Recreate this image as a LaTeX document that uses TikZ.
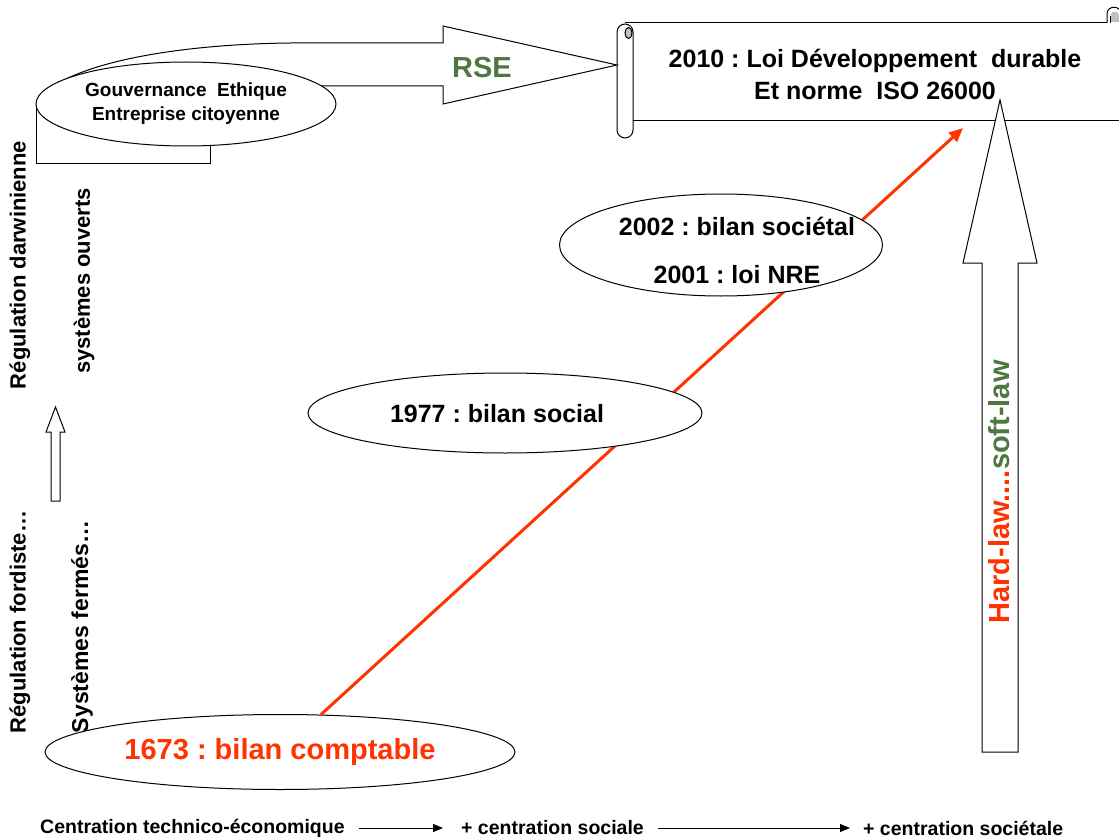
\documentclass[tikz,border=0pt]{standalone}
\usepackage{fontspec}
\setmainfont{Liberation Sans}
\usetikzlibrary{shapes.geometric,arrows.meta}
\definecolor{rougebilan}{RGB}{255,51,0}
\definecolor{vertrse}{RGB}{79,119,66}
\definecolor{grisrouleau}{RGB}{192,192,192}
\newcommand{\taille}[2]{\fontsize{#1}{#2}\selectfont}
\frenchspacing

\begin{document}
\begin{tikzpicture}[x=1pt,y=-1pt,
  trait/.style={draw=black,line width=1pt},
  bulle/.style={ellipse,draw=black,line width=1pt,fill=white,inner sep=0pt},
  gras/.style={inner sep=0pt,font=\bfseries},
  vertical/.style={inner sep=0pt,rotate=90,font=\bfseries\taille{22}{26}},
  axe/.style={inner sep=0pt,font=\bfseries\taille{19.5}{23}},
  flecheaxe/.style={draw=black,line width=1pt,-{Triangle[length=10pt,width=8pt]}},
  flecherouge/.style={draw=rougebilan,line width=3pt,-{Triangle[length=14pt,width=12pt]}},
]
\useasboundingbox (0,0) rectangle (1119,840);
\fill[white] (0,0) rectangle (1119,840);
\begin{scope}
\clip (0,0) rectangle (1119,840);

% ---- scroll holding the 2010 law ----
\draw[trait, fill=white] (625,23) -- (1130,23) -- (1130,121) -- (633,121);
\draw[trait, fill=white, rounded corners=8pt] (617,24) rectangle (633,138);
\draw[trait, fill=grisrouleau] (628.5,33) ellipse [x radius=3.5, y radius=5.5];
\draw[trait, fill=white] (1107,23) -- (1107,14) .. controls (1107,5) and (1121,5) .. (1121,14) -- (1121,23);
\fill[grisrouleau] (1110.5,22) -- (1110.5,16) .. controls (1110.5,10) and (1119,10) .. (1119,16) -- (1119,22) -- cycle;
\draw[trait] (1110.5,23) -- (1110.5,16);
\node[gras, align=center, font=\bfseries\taille{25}{32}] (loi2010) at (875,74)
  {2010 : Loi Développement\ \ durable\\Et norme\ \ ISO 26000};

% ---- curved RSE arrow leaving the governance ellipse ----
\draw[trait] (36,106) -- (36,163) -- (210,163) -- (210,145);
\draw[trait, fill=white] (321.5,86) -- (443,86) -- (443,104) -- (617,65) -- (443,26) -- (443,43)
  -- (290,43) .. controls (200,44) and (110,56) .. (62,81) -- cycle;
\node[bulle, minimum width=300pt, minimum height=84pt, align=center,
      font=\bfseries\taille{19}{24}] (gouv) at (186,104)
  {Gouvernance\ \ Ethique\\Entreprise citoyenne};
\node[gras, text=vertrse, font=\bfseries\taille{29}{34}] (rse) at (482,68) {RSE};

% ---- left-hand vertical captions ----
\node[vertical] (regdarw) at (20,265) {Régulation darwinienne};
\node[vertical] (sysouv) at (84,281) {systèmes ouverts};
\node[vertical] (regford) at (20,622) {Régulation fordiste…};
\node[vertical, font=\bfseries\taille{23}{27}] (sysferm) at (82,627) {Systèmes fermés…};
\draw[trait, fill=white] (51,501) -- (51,432) -- (46,432) -- (55.5,407) -- (65,432) -- (60,432) -- (60,501) -- cycle;

% ---- milestones along the red progression line ----
\node[bulle, minimum width=470pt, minimum height=75pt, text=rougebilan,
      font=\bfseries\taille{29}{34}] (b1673) at (280,752) {1673 : bilan comptable};
\coordinate (pointe) at (963,128);
\draw[flecherouge] (b1673) -- (pointe);
\node[bulle, minimum width=394pt, minimum height=80pt] (b1977) at (505,413) {};
\node[gras, anchor=base, font=\bfseries\taille{25}{30}] (t1977) at (497,422) {1977 : bilan social};
\node[bulle, minimum width=323pt, minimum height=102pt] (b2002) at (721,245) {};
\node[gras, anchor=base, font=\bfseries\taille{25}{30}] (t2002) at (737,235) {2002 : bilan sociétal};
\node[gras, anchor=base, font=\bfseries\taille{25}{30}] (t2001) at (737,283) {2001 : loi NRE};

% ---- hard-law / soft-law arrow ----
\draw[trait, fill=white] (982,752) -- (982,263) -- (963,263) -- (1000,100) -- (1037,263) -- (1018,263) -- (1018,752) -- cycle;
\node[rotate=90, inner sep=0pt, font=\bfseries\taille{29}{34}] (hardsoft) at (999,492)
  {\textcolor{rougebilan}{Hard-law....}\textcolor{vertrse}{soft-law}};

% ---- bottom axis ----
\node[axe, anchor=west] (axe1) at (40,828) {Centration technico-économique};
\node[axe, anchor=west] (axe2) at (461,828) {+ centration sociale};
\node[axe, anchor=west] (axe3) at (863,828) {+ centration sociétale};
\draw[flecheaxe] ([xshift=14pt]axe1.east) -- ([xshift=-18pt]axe2.west);
\draw[flecheaxe] ([xshift=14pt]axe2.east) -- ([xshift=-13pt]axe3.west);
\end{scope}
\end{tikzpicture}
\end{document}
